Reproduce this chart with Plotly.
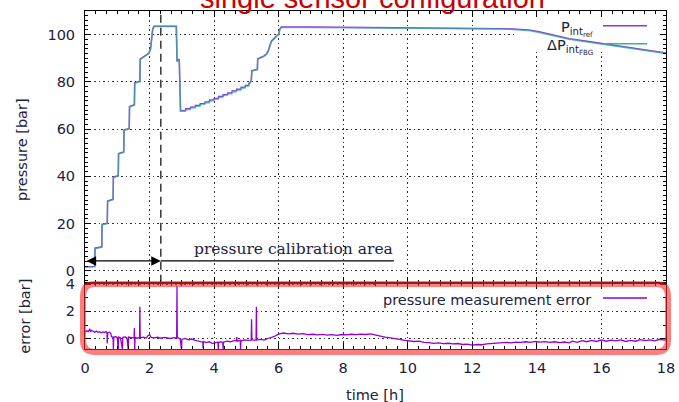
import plotly.graph_objects as go

# ---------------- data ----------------
# pressure curves (time [h], pressure [bar]) -- reference sensor and FBG
p_time_rise = [0.00, 0.30, 0.31, 0.52, 0.53, 0.69, 0.70, 0.87, 0.88, 1.03,
               1.04, 1.20, 1.21, 1.37, 1.38, 1.53, 1.54, 1.70, 1.71, 1.80,
               1.90, 1.98, 2.03, 2.07, 2.10, 2.14, 2.50, 2.83, 2.85, 2.92, 2.96]
p_ref_rise = [1.8, 1.9, 9.6, 10.2, 19.7, 20.2, 29.6, 30.3, 39.7, 40.3,
              49.7, 50.3, 59.6, 60.3, 69.6, 70.3, 79.6, 80.3, 89.6, 90.5,
              91.2, 92.2, 94.0, 98.5, 102.5, 103.5, 103.6, 103.5, 88.8, 89.6, 67.8]
p_fbg_rise = [1.6, 1.8, 9.4, 10.0, 19.5, 20.0, 29.4, 30.1, 39.5, 40.1,
              49.5, 50.1, 59.4, 60.1, 69.4, 70.1, 79.4, 80.1, 89.4, 90.3,
              91.0, 92.0, 93.8, 98.3, 102.3, 103.4, 103.5, 103.4, 88.6, 89.4, 67.6]

p_time_stairs = [3.11, 3.12, 3.26, 3.27, 3.41, 3.42, 3.56, 3.57, 3.71, 3.72,
                 3.85, 3.86, 3.99, 4.00, 4.13, 4.14, 4.27, 4.28, 4.41, 4.42,
                 4.55, 4.56, 4.69, 4.70, 4.83, 4.84, 4.96, 4.97, 5.07, 5.08,
                 5.15, 5.17, 5.34, 5.35]
p_ref_stairs = [67.9, 68.6, 68.7, 69.3, 69.4, 70.0, 70.1, 70.8, 70.9, 71.5,
                71.6, 72.3, 72.4, 73.0, 73.1, 73.8, 73.9, 74.6, 74.7, 75.3,
                75.4, 76.1, 76.2, 76.9, 77.0, 77.7, 77.8, 78.5, 78.6, 79.4,
                80.4, 84.8, 85.3, 89.8]
p_fbg_stairs = [67.6, 68.2, 68.3, 68.9, 69.0, 69.6, 69.7, 70.4, 70.5, 71.1,
                71.2, 71.9, 72.0, 72.6, 72.7, 73.4, 73.5, 74.2, 74.3, 74.9,
                75.0, 75.7, 75.8, 76.5, 76.6, 77.3, 77.4, 78.1, 78.2, 79.0,
                80.1, 84.6, 85.1, 89.6]

p_time_tail = [5.45, 5.55, 5.62, 5.68, 5.73, 5.78, 5.85, 5.93, 6.00, 6.04,
               6.08, 7.0, 8.0, 9.0, 10.0, 11.0, 12.0, 13.0, 13.5, 13.8,
               14.1, 14.4, 14.7, 15.0, 15.5, 16.0, 16.5, 17.0, 17.5, 18.0]
p_ref_tail = [90.4, 91.0, 91.8, 93.2, 95.5, 97.3, 98.3, 99.3, 100.3, 102.5,
              103.2, 103.2, 103.1, 103.0, 102.9, 102.8, 102.7, 102.5, 102.2, 101.9,
              101.1, 100.1, 99.2, 98.3, 97.3, 96.3, 95.3, 94.3, 93.2, 92.2]
p_fbg_tail = [90.2, 90.8, 91.6, 93.0, 95.3, 97.1, 98.1, 99.1, 100.1, 102.3,
              103.0, 103.0, 102.9, 102.8, 102.8, 102.7, 102.6, 102.4, 102.0, 101.6,
              100.8, 99.8, 98.9, 98.0, 97.0, 96.0, 95.0, 94.0, 93.0, 92.0]

# pressure measurement error (time [h], error [bar])
err_time_a = [0.00, 0.05, 0.10, 0.15, 0.17, 0.20, 0.25, 0.30, 0.35, 0.40,
              0.45, 0.50, 0.55, 0.60, 0.65, 0.68, 0.69, 0.70, 0.75, 0.80,
              0.82, 0.87, 0.88, 0.89, 0.95, 1.00, 1.03, 1.04, 1.10, 1.16,
              1.17, 1.25, 1.30, 1.34, 1.35, 1.45, 1.52, 1.53, 1.54, 1.55,
              1.62, 1.69, 1.70, 1.71, 1.80, 1.90, 1.95, 2.00, 2.05, 2.15,
              2.25, 2.35, 2.45, 2.55, 2.65, 2.75, 2.84, 2.85, 2.86, 2.95]
err_val_a = [0.50, 0.58, 0.52, 0.72, 0.50, 0.62, 0.55, 0.48, 0.56, 0.47,
             0.52, 0.44, 0.50, 0.46, 0.52, 0.45, -0.34, 0.42, 0.48, 0.40,
             0.15, 0.12, -0.80, 0.10, 0.16, 0.08, -0.80, 0.12, 0.05, -0.80,
             0.10, 0.14, 0.06, -0.80, 0.12, 0.08, 0.05, 0.78, -0.80, 0.10,
             0.04, 0.08, 2.34, 0.06, 0.12, 0.05, 0.22, 0.30, 0.10, 0.06,
             0.12, 0.04, 0.10, 0.06, 0.02, 0.08, 0.05, 3.85, 0.10, -0.02]
err_time_b = [2.99, 3.00, 3.10, 3.20, 3.30, 3.40, 3.50, 3.60, 3.65, 3.66,
              3.67, 3.75, 3.85, 3.95, 4.05, 4.12, 4.13, 4.14, 4.20, 4.27,
              4.28, 4.29, 4.40, 4.50, 4.60, 4.69, 4.70, 4.71, 4.81, 4.82,
              4.83, 4.95, 5.05, 5.15, 5.16, 5.17, 5.25, 5.30, 5.31, 5.32,
              5.45, 5.55, 5.65, 5.75, 5.85, 5.95]
err_val_b = [-0.80, -0.05, 0.02, -0.08, -0.02, -0.10, -0.15, -0.22, -0.25, -0.70,
             -0.20, -0.28, -0.22, -0.35, -0.30, -0.25, -0.80, -0.30, -0.22, -0.28,
             -0.80, -0.25, -0.18, -0.22, -0.15, -0.12, 0.12, -0.18, -0.12, -0.80,
             -0.15, -0.08, -0.12, -0.10, 1.42, -0.08, -0.12, -0.06, 2.34, -0.10,
             -0.05, -0.10, 0.00, 0.05, 0.15, 0.28]
err_time_c = [6.05, 6.15, 6.30, 6.45, 6.60, 6.75, 6.90, 7.05, 7.20, 7.35,
              7.50, 7.65, 7.80, 7.95, 8.10, 8.25, 8.40, 8.55, 8.70, 8.85,
              9.00, 9.15, 9.30, 9.45, 9.60, 9.75, 9.90, 10.05, 10.20, 10.35,
              10.50, 10.65, 10.80, 10.95, 11.10, 11.25, 11.40, 11.55, 11.70, 11.85,
              12.00, 12.15, 12.30, 12.45, 12.60, 12.75, 12.90, 13.05, 13.20, 13.35,
              13.50, 13.65, 13.80, 13.95, 14.10, 14.25, 14.40, 14.55, 14.70, 14.85,
              15.00, 15.10, 15.25, 15.40, 15.55, 15.70, 15.85, 16.00, 16.15, 16.30,
              16.45, 16.60, 16.75, 16.90, 17.05, 17.20, 17.35, 17.50, 17.65, 17.80,
              17.95, 18.00]
err_val_c = [0.38, 0.42, 0.36, 0.40, 0.34, 0.38, 0.30, 0.33, 0.28, 0.32,
             0.27, 0.30, 0.25, 0.31, 0.28, 0.33, 0.30, 0.34, 0.31, 0.36,
             0.30, 0.20, 0.12, 0.08, 0.02, -0.05, -0.12, -0.16, -0.20, -0.18,
             -0.26, -0.28, -0.34, -0.30, -0.36, -0.33, -0.38, -0.35, -0.42, -0.40,
             -0.46, -0.42, -0.44, -0.38, -0.36, -0.32, -0.30, -0.26, -0.30, -0.24,
             -0.27, -0.22, -0.26, -0.20, -0.24, -0.21, -0.26, -0.22, -0.28, -0.24,
             -0.30, -0.18, -0.26, -0.14, -0.22, -0.12, -0.20, -0.08, -0.18, -0.10,
             -0.16, -0.08, -0.20, -0.12, -0.18, -0.06, -0.14, -0.08, -0.16, -0.04,
             -0.10, -0.06]

calib_end_time = 2.35      # end of the pressure calibration area [h]
x_tick_vals = [0, 2, 4, 6, 8, 10, 12, 14, 16, 18]
p_tick_vals = [0, 20, 40, 60, 80, 100]
e_tick_vals = [0, 2, 4]

p_time = p_time_rise + p_time_stairs + p_time_tail
p_ref = p_ref_rise + p_ref_stairs + p_ref_tail
p_fbg = p_fbg_rise + p_fbg_stairs + p_fbg_tail
err_time = err_time_a + err_time_b + err_time_c
err_val = err_val_a + err_val_b + err_val_c

# ---------------- layout constants ----------------
W, H = 679, 402
ML, MR, MT, MB = 85, 13, 11, 53
PW, PH = W - ML - MR, H - MT - MB
SPLIT = 282.7  # pixel row where both panels meet


def px(xp):
    return (xp - ML) / PW


def py(yp):
    return (H - MB - yp) / PH


split_frac = py(SPLIT)
TXT = "#1b2140"
FONT = "DejaVu Sans"
PURPLE = "#9a2ee0"
TEAL = "#30b49a"

fig = go.Figure()
fig.add_trace(go.Scatter(x=p_time, y=p_ref, mode="lines", xaxis="x2", yaxis="y",
                         line=dict(color=PURPLE, width=1.5), hoverinfo="skip"))
fig.add_trace(go.Scatter(x=p_time, y=p_fbg, mode="lines", xaxis="x2", yaxis="y",
                         line=dict(color=TEAL, width=1.5), opacity=0.72, hoverinfo="skip"))
fig.add_trace(go.Scatter(x=err_time, y=err_val, mode="lines", xaxis="x", yaxis="y2",
                         line=dict(color="#9400d3", width=1.3), hoverinfo="skip"))

grid = dict(showgrid=True, gridcolor="#333", griddash="1.5px,3px", gridwidth=1)
common = dict(showline=True, linecolor="black", linewidth=1, mirror="allticks",
              ticks="inside", ticklen=6, tickcolor="black", zeroline=False, automargin=False,
              tickfont=dict(family=FONT, size=14.5, color=TXT), **grid)

fig.update_layout(
    width=W, height=H, margin=dict(l=ML, r=MR, t=MT, b=MB, autoexpand=False),
    paper_bgcolor="white", plot_bgcolor="white", showlegend=False,
    xaxis=dict(domain=[0, 1], anchor="y2", range=[0, 18], tickvals=x_tick_vals,
               ticklabelstandoff=6,
               minor=dict(dtick=1 / 3, ticks="inside", ticklen=3, tickcolor="black", showgrid=False),
               **common),
    xaxis2=dict(domain=[0, 1], anchor="y", range=[0, 18], tickvals=x_tick_vals,
                matches="x", showticklabels=False,
                minor=dict(dtick=1 / 3, ticks="inside", ticklen=3, tickcolor="black", showgrid=False),
                **common),
    yaxis=dict(domain=[split_frac, 1], anchor="x2", range=[-5, 110], tickvals=p_tick_vals,
               ticklabelstandoff=6,
               minor=dict(dtick=2, ticks="inside", ticklen=3, tickcolor="black", showgrid=False),
               **common),
    yaxis2=dict(domain=[0, split_frac], anchor="x", range=[-0.75, 4.1], tickvals=e_tick_vals,
                ticklabelstandoff=6,
                minor=dict(dtick=1, ticks="inside", ticklen=3, tickcolor="black", showgrid=False),
                **common),
)

shapes = []
# key areas (gnuplot blanks the grid under the key)
shapes.append(dict(type="rect", xref="x2", yref="y", x0=13.38, x1=18, y0=92.8, y1=110,
                   fillcolor="white", line=dict(width=0), layer="between"))
shapes.append(dict(type="rect", xref="x", yref="y2", x0=9.08, x1=18, y0=2.24, y1=4.1,
                   fillcolor="white", line=dict(width=0), layer="between"))
# calibration border (dashed)
shapes.append(dict(type="line", xref="x2", yref="y", x0=calib_end_time, x1=calib_end_time,
                   y0=-5, y1=110, line=dict(color="black", width=1.2, dash="8px,5px")))
# underline of calibration label
shapes.append(dict(type="line", xref="x2", yref="y", x0=calib_end_time, x1=9.57, y0=4.2, y1=4.2,
                   line=dict(color="black", width=1.2)))
# key sample lines
shapes.append(dict(type="line", xref="paper", yref="paper", x0=px(603), x1=px(647),
                   y0=py(25.7), y1=py(25.7), line=dict(color=PURPLE, width=1.6)))
shapes.append(dict(type="line", xref="paper", yref="paper", x0=px(603), x1=px(647),
                   y0=py(43.7), y1=py(43.7), line=dict(color=TEAL, width=1.6)))
shapes.append(dict(type="line", xref="paper", yref="paper", x0=px(603), x1=px(647),
                   y0=py(298), y1=py(298), line=dict(color="#9400d3", width=1.3)))
# red rounded highlight around error panel
x0, x1, yt, yb = px(83), px(668), py(284), py(352)
rx, ry = 12 / PW, 12 / PH
path = (f"M {x0 + rx},{yt} L {x1 - rx},{yt} Q {x1},{yt} {x1},{yt - ry} "
        f"L {x1},{yb + ry} Q {x1},{yb} {x1 - rx},{yb} L {x0 + rx},{yb} "
        f"Q {x0},{yb} {x0},{yb + ry} L {x0},{yt - ry} Q {x0},{yt} {x0 + rx},{yt} Z")
shapes.append(dict(type="path", xref="paper", yref="paper", path=path,
                   line=dict(color="rgba(250,40,40,0.6)", width=6), layer="above"))
fig.update_layout(shapes=shapes)

ann = []
ann.append(dict(text="single sensor configuration", xref="paper", yref="paper",
                x=px(372.5), y=py(15.6), xanchor="center", yanchor="bottom", showarrow=False,
                font=dict(family="Liberation Sans", size=29, color="#c80000")))
ann.append(dict(text="P<sub>int<sub>ref</sub></sub>", xref="paper", yref="paper",
                x=px(595), y=py(17.2), xanchor="right", yanchor="top", showarrow=False,
                font=dict(family=FONT, size=14.5, color=TXT)))
ann.append(dict(text="ΔP<sub>int<sub>FBG</sub></sub>", xref="paper", yref="paper",
                x=px(595), y=py(35.5), xanchor="right", yanchor="top", showarrow=False,
                font=dict(family=FONT, size=14.5, color=TXT)))
ann.append(dict(text="pressure measurement error", xref="paper", yref="paper",
                x=px(593), y=py(289.5), xanchor="right", yanchor="top", showarrow=False,
                font=dict(family=FONT, size=14.5, color=TXT)))
ann.append(dict(text="pressure [bar]", xref="paper", yref="paper", x=px(22), y=py(150),
                xanchor="center", yanchor="middle", textangle=-90, showarrow=False,
                font=dict(family=FONT, size=14.5, color=TXT)))
ann.append(dict(text="error [bar]", xref="paper", yref="paper", x=px(25), y=py(316.7),
                xanchor="center", yanchor="middle", textangle=-90, showarrow=False,
                font=dict(family=FONT, size=14.5, color=TXT)))
ann.append(dict(text="time [h]", xref="paper", yref="paper", x=px(375), y=py(395),
                xanchor="center", yanchor="middle", showarrow=False,
                font=dict(family=FONT, size=14.5, color=TXT)))
ann.append(dict(text="pressure calibration area", xref="x2", yref="y", x=6.45, y=4.8,
                xanchor="center", yanchor="bottom", showarrow=False,
                font=dict(family="DejaVu Serif", size=15.5, color=TXT)))
ann.append(dict(text="", xref="x2", yref="y", x=calib_end_time, y=4.2, axref="x2", ayref="y",
                ax=0, ay=4.2, showarrow=True, arrowhead=2, startarrowhead=2,
                arrowside="end+start", arrowsize=1.6, startarrowsize=1.6,
                arrowwidth=1.2, arrowcolor="black"))
fig.update_layout(annotations=ann)

fig.write_html("out.html", config={"displayModeBar": False},
               post_script="document.body.style.margin='0';document.body.style.overflow='hidden';")
